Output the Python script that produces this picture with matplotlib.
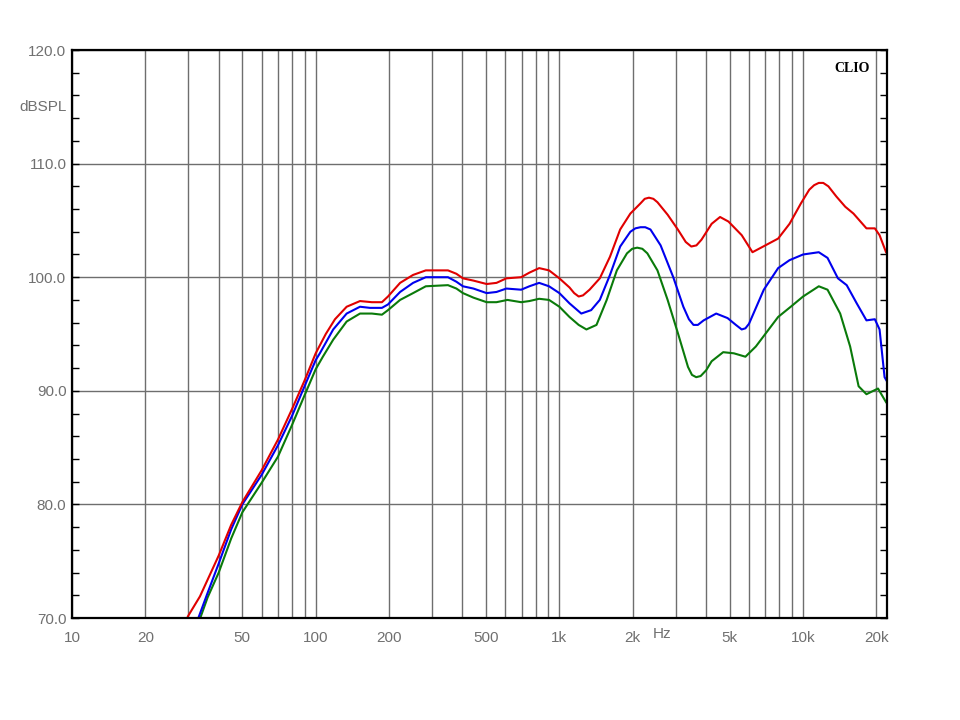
import matplotlib
matplotlib.use("Agg")
import matplotlib.pyplot as plt
from matplotlib.ticker import FixedLocator, NullFormatter

# frequency response curves (Hz, dBSPL)
red_f = [28, 30, 33.5, 40, 45, 50, 60, 70, 80, 90, 100, 110, 120, 134, 152, 170, 187, 198,
         222, 251, 283, 324, 349, 378, 402, 444, 503, 552, 606, 697, 753, 826, 907, 1000,
         1100, 1150, 1200, 1250, 1330, 1465, 1613, 1776, 1955, 2152, 2240, 2331, 2430, 2526,
         2781, 3062, 3300, 3478, 3650, 3829, 4215, 4564, 4940, 5600, 6200, 7000, 7900, 8800,
         9800, 10600, 11100, 11600, 12100, 12700, 13700, 14900, 16100, 18200, 19700, 20600,
         21900]
red_db = [68.8, 70.2, 71.9, 75.5, 78.2, 80.2, 83.0, 85.7, 88.4, 90.9, 93.3, 95.0, 96.3, 97.4,
          97.9, 97.8, 97.8, 98.3, 99.5, 100.2, 100.6, 100.6, 100.6, 100.3, 99.9, 99.7, 99.4,
          99.5, 99.9, 100.0, 100.4, 100.8, 100.6, 99.9, 99.1, 98.6, 98.3, 98.4, 98.9, 99.9,
          101.8, 104.2, 105.6, 106.5, 106.9, 107.0, 106.9, 106.6, 105.5, 104.2, 103.1, 102.7,
          102.8, 103.3, 104.7, 105.3, 104.9, 103.7, 102.2, 102.8, 103.4, 104.7, 106.5, 107.7,
          108.1, 108.3, 108.3, 108.0, 107.1, 106.2, 105.6, 104.3, 104.3, 103.7, 102.2]

blue_f = [31, 33, 36, 40, 45, 50, 60, 70, 80, 90, 100, 104, 118, 134, 152, 167, 187, 198, 222,
          251, 283, 349, 378, 402, 444, 503, 552, 606, 697, 753, 826, 907, 1000, 1100, 1230,
          1350, 1465, 1613, 1776, 1955, 2050, 2152, 2250, 2364, 2603, 2933, 3226, 3400, 3550,
          3700, 3908, 4400, 4900, 5300, 5600, 5800, 6000, 6900, 7900, 8800, 10000, 11600,
          12600, 13900, 15100, 16600, 18200, 19700, 20600, 21600, 22000]
blue_db = [68.7, 70.0, 72.2, 74.8, 77.8, 80.0, 82.6, 85.2, 87.8, 90.4, 92.7, 93.3, 95.4, 96.8,
           97.4, 97.3, 97.3, 97.6, 98.7, 99.5, 100.0, 100.0, 99.6, 99.2, 99.0, 98.6, 98.7, 99.0,
           98.9, 99.2, 99.5, 99.2, 98.6, 97.7, 96.8, 97.1, 98.0, 100.2, 102.7, 104.0, 104.3,
           104.4, 104.4, 104.2, 102.8, 100.0, 97.4, 96.3, 95.8, 95.8, 96.2, 96.8, 96.4, 95.8,
           95.4, 95.5, 95.9, 98.9, 100.8, 101.5, 102.0, 102.2, 101.7, 99.9, 99.3, 97.7, 96.2,
           96.3, 95.4, 91.2, 90.9]

green_f = [31.5, 33.6, 36, 40, 45, 50, 60, 70, 80, 90, 100, 107, 118, 134, 152, 170, 187, 198,
           222, 251, 283, 349, 378, 402, 444, 503, 552, 612, 697, 753, 826, 907, 1000, 1100,
           1200, 1291, 1420, 1564, 1721, 1894, 1990, 2086, 2190, 2296, 2526, 2781, 3062, 3371,
           3500, 3642, 3800, 4000, 4215, 4700, 5200, 5800, 6400, 7900, 8900, 10000, 11600,
           12600, 14200, 15600, 16900, 18200, 20300, 21900]
green_db = [68.7, 70.0, 71.8, 74.0, 77.0, 79.3, 81.9, 84.2, 87.0, 89.6, 91.9, 93.0, 94.5, 96.1,
            96.8, 96.8, 96.7, 97.1, 98.0, 98.6, 99.2, 99.3, 99.0, 98.6, 98.2, 97.8, 97.8, 98.0,
            97.8, 97.9, 98.1, 98.0, 97.4, 96.5, 95.8, 95.4, 95.8, 98.0, 100.6, 102.1, 102.5,
            102.6, 102.5, 102.1, 100.6, 98.0, 95.1, 92.1, 91.4, 91.2, 91.3, 91.8, 92.6, 93.4,
            93.3, 93.0, 93.9, 96.5, 97.4, 98.3, 99.2, 98.9, 96.8, 93.9, 90.4, 89.7, 90.2, 89.0]

x_ticks = [10, 20, 50, 100, 200, 500, 1000, 2000, 5000, 10000, 20000]
x_labels = ["10", "20", "50", "100", "200", "500", "1k", "2k", "5k", "10k", "20k"]
x_minor = [30, 40, 60, 70, 80, 90, 300, 400, 600, 700, 800, 900,
           3000, 4000, 6000, 7000, 8000, 9000]
y_ticks = [70, 80, 90, 100, 110, 120]

LABEL_COLOR = "#707070"
GRID_COLOR = "#6e6e6e"

plt.rcParams["font.family"] = ["Liberation Sans", "DejaVu Sans"]

fig = plt.figure(figsize=(9.6, 7.2), dpi=100)
ax = fig.add_axes([0.075, 1 - 618 / 720, (887 - 72) / 960, (618 - 50) / 720])

for f, db, c in [(green_f, green_db, "#0a7a0a"), (blue_f, blue_db, "#0000ee"),
                 (red_f, red_db, "#e00000")]:
    ax.plot(f, db, color=c, linewidth=1.5, solid_joinstyle="round")

ax.set_xscale("log")
ax.set_xlim(10, 22100)
ax.set_ylim(70, 120)

ax.xaxis.set_major_locator(FixedLocator(x_ticks))
ax.xaxis.set_minor_locator(FixedLocator(x_minor))
ax.set_xticklabels(x_labels)
ax.xaxis.set_minor_formatter(NullFormatter())
ax.tick_params(axis="x", which="both", length=0, pad=9, labelsize=11, labelcolor=LABEL_COLOR)

ax.set_yticks(y_ticks)
ax.set_yticklabels([f"{v:.1f}" for v in y_ticks])
ax.yaxis.set_minor_locator(FixedLocator(range(70, 121, 2)))
ax.tick_params(axis="y", which="both", direction="in", length=5, width=1,
               left=True, right=True, pad=4, labelsize=11, labelcolor=LABEL_COLOR)

ax.grid(True, which="both", axis="x", color=GRID_COLOR, linewidth=1)
ax.grid(True, which="major", axis="y", color=GRID_COLOR, linewidth=1)
ax.set_axisbelow(True)

for spine in ax.spines.values():
    spine.set_linewidth(1.6)
    spine.set_color("black")

ax.text(-0.006, 115, "dBSPL", transform=ax.get_yaxis_transform(), ha="right", va="center",
        fontsize=11, color=LABEL_COLOR)
ax.text(2650, -0.0285, "Hz", transform=ax.get_xaxis_transform(), ha="center", va="center",
        fontsize=11, color=LABEL_COLOR)
ax.text(0.979, 0.978, "CLIO", transform=ax.transAxes, ha="right", va="top",
        fontsize=10, fontweight="bold", family=["Liberation Serif", "DejaVu Serif"])

fig.savefig("out.png", dpi=100)
